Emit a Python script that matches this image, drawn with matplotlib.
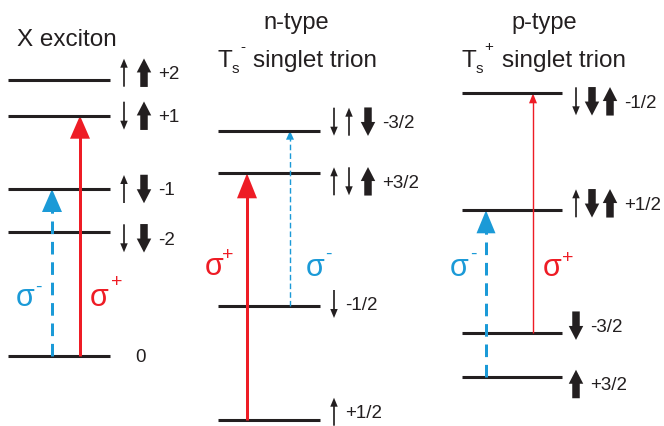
import matplotlib
matplotlib.use("Agg")
import matplotlib.pyplot as plt
from matplotlib.patches import FancyArrow, Polygon

plt.rcParams['font.family'] = ['Liberation Sans', 'DejaVu Sans']

BLACK = '#231F20'
RED = '#EE1C25'
BLUE = '#1B9AD7'

# ---- level data (vertical position of each level, figure pixels from top) ----
exciton_levels = [80.7, 116.7, 190.0, 233.3, 356.7]
exciton_labels = ['+2', '+1', '-1', '-2', '0']
exciton_spins = [['u', 'U'], ['d', 'U'], ['u', 'D'], ['d', 'D'], []]

ntrion_levels = [131.7, 174.3, 307.0, 420.7]
ntrion_labels = ['-3/2', '+3/2', '-1/2', '+1/2']
ntrion_spins = [['d', 'u', 'D'], ['u', 'd', 'U'], ['d'], ['u']]

ptrion_levels = [94.3, 211.3, 333.7, 378.0]
ptrion_labels = ['-1/2', '+1/2', '-3/2', '+3/2']
ptrion_spins = [['d', 'D', 'U'], ['u', 'D', 'U'], ['D'], ['U']]

# transitions: (panel, lower level index, upper level index, polarisation)
transitions = [
    (0, 4, 2, 'minus'),       # 0 -> -1
    (0, 4, 1, 'plus'),        # 0 -> +1
    (1, 3, 1, 'plus'),        # +1/2 -> +3/2
    (1, 2, 0, 'minus'),       # -1/2 -> -3/2
    (2, 3, 1, 'minus'),       # +3/2 -> +1/2
    (2, 2, 0, 'plus'),        # -3/2 -> -1/2
]

# ---- layout ----
panels = [
    dict(levels=exciton_levels, labels=exciton_labels, spins=exciton_spins,
         x0=8, x1=110, spin_x=[124, 144], row_off=[-7, 0, 0, 6, 0],
         label_x0=141),
    dict(levels=ntrion_levels, labels=ntrion_labels, spins=ntrion_spins,
         x0=218, x1=320, spin_x=[334, 349, 368], row_off=[-9, 8, -2, -8]),
    dict(levels=ptrion_levels, labels=ptrion_labels, spins=ptrion_spins,
         x0=462, x1=562, spin_x=[576, 592, 610], row_off=[8, -7, -7, 7]),
]

# per-transition style: x position, line width (px), head size, dashes
tstyle = [
    dict(x=52, lw=3.0, hw=20, hl=23, dash=(4.2, 2.6)),
    dict(x=80, lw=3.0, hw=20, hl=23, dash=None),
    dict(x=247, lw=3.0, hw=20, hl=25, dash=None),
    dict(x=290, lw=1.4, hw=8, hl=9, dash=(4.0, 2.2)),
    dict(x=486, lw=3.0, hw=19, hl=23, dash=(4.2, 2.6)),
    dict(x=533, lw=1.4, hw=8, hl=10, dash=None),
]

sigma_pos = [
    ((25, 298), (38, 287)),
    ((99, 298), (117, 283)),
    ((214, 267), (228, 256)),
    ((315, 268), (328, 254)),
    ((459, 268), (473, 254)),
    ((552, 268), (568, 259)),
]

fig = plt.figure(figsize=(6.64, 4.27), dpi=100)
ax = fig.add_axes([0, 0, 1, 1])
ax.set_xlim(0, 664)
ax.set_ylim(427, 0)
ax.axis('off')


def spin_arrow(x, yc, kind):
    up = kind in ('u', 'U')
    thick = kind in ('U', 'D')
    L = 28 if not thick else 28.5
    y_tail = yc + L / 2 if up else yc - L / 2
    dy = -L if up else L
    if thick:
        a = FancyArrow(x, y_tail, 0, dy, width=7.5, head_width=14.5,
                       head_length=14, length_includes_head=True,
                       color=BLACK, lw=0)
    else:
        a = FancyArrow(x, y_tail, 0, dy, width=1.7, head_width=7.5,
                       head_length=9, length_includes_head=True,
                       color=BLACK, lw=0)
    ax.add_patch(a)


for p in panels:
    for i, (y, lab, sp) in enumerate(zip(p['levels'], p['labels'], p['spins'])):
        ax.plot([p['x0'], p['x1']], [y, y], color=BLACK, lw=2.2,
                solid_capstyle='butt')
        yc = y + p['row_off'][i]
        for k, kind in enumerate(sp):
            spin_arrow(p['spin_x'][k], yc, kind)
        if sp:
            lx = p['spin_x'][len(sp) - 1] + (14 if sp[-1] in 'UD' else 11)
        else:
            lx = p['label_x0'] - 6
        ax.text(lx, yc + 1, lab, fontsize=13.5, color=BLACK,
                ha='left', va='center')

for (pi, lo, hi, pol), st, (spos, ppos) in zip(transitions, tstyle, sigma_pos):
    lv = panels[pi]['levels']
    y0, y1 = lv[lo], lv[hi]
    col = RED if pol == 'plus' else BLUE
    x = st['x']
    line, = ax.plot([x, x], [y0, y1 + st['hl'] * 0.8], color=col,
                    lw=st['lw'] * 0.72, solid_capstyle='butt',
                    dash_capstyle='butt')
    if st['dash'] is not None:
        line.set_dashes(st['dash'])
    head = Polygon([(x - st['hw'] / 2, y1 + st['hl']),
                    (x + st['hw'] / 2, y1 + st['hl']),
                    (x, y1)], closed=True, color=col, lw=0)
    ax.add_patch(head)
    ax.text(spos[0], spos[1], '\u03c3', fontsize=22, color=col,
            ha='center', va='center')
    ax.text(ppos[0], ppos[1], '+' if pol == 'plus' else '-',
            fontsize=14, color=col, ha='center', va='center')

# titles
ax.text(17, 46, 'X exciton', fontsize=17.5, color=BLACK, ha='left',
        va='baseline')
ax.text(296, 29, 'n-type', fontsize=17, color=BLACK, ha='center',
        va='baseline')
ax.text(544, 29, 'p-type', fontsize=17, color=BLACK, ha='center',
        va='baseline')

for tx, sx, cx, sign, rx in [(218, 232, 243, '-', 253),
                             (462, 476, 489, '+', 502)]:
    ax.text(tx, 67, 'T', fontsize=17.5, color=BLACK, ha='left',
            va='baseline')
    ax.text(sx, 73, 's', fontsize=11, color=BLACK, ha='left',
            va='baseline')
    ax.text(cx, 47, sign, fontsize=11, color=BLACK, ha='center',
            va='center')
    ax.text(rx, 67, 'singlet trion', fontsize=17.5, color=BLACK,
            ha='left', va='baseline')

fig.savefig('out.png', dpi=100)
